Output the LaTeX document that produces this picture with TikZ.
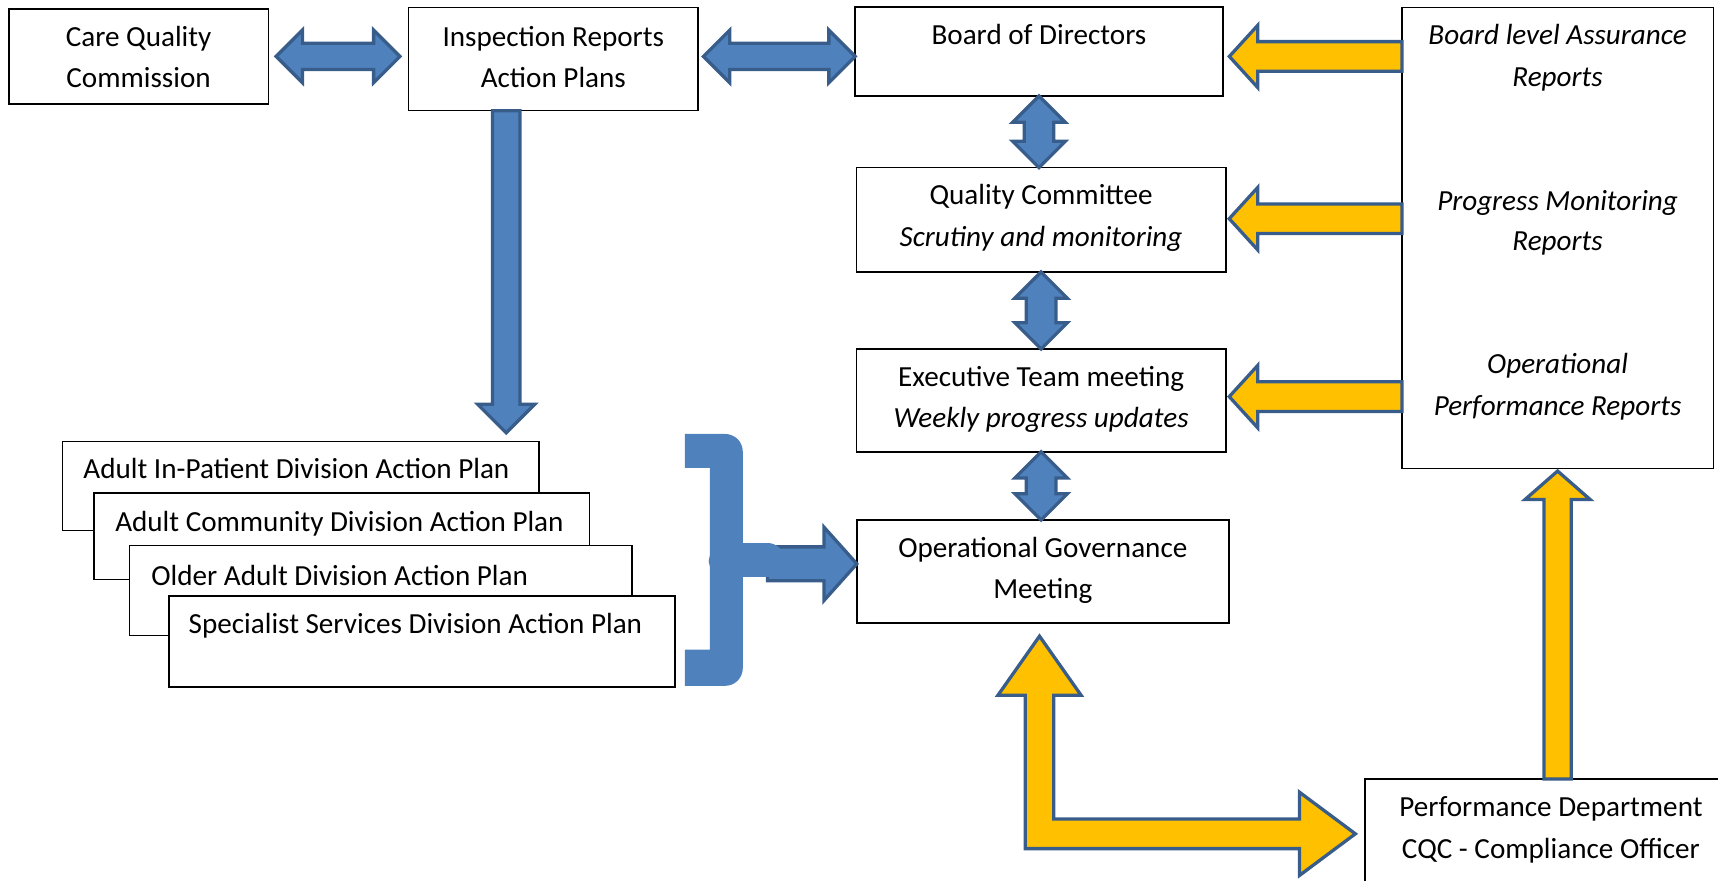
\documentclass[tikz,border=0pt]{standalone}
\usepackage{fontspec}
\setmainfont{Carlito}
\usetikzlibrary{calc}
\definecolor{bfill}{HTML}{4F81BD}
\definecolor{bline}{HTML}{385D8A}
\definecolor{yfill}{HTML}{FFC000}
\tikzset{
  box/.style={draw=black, line width=1.4pt, fill=white, inner sep=0pt, outer sep=0pt, anchor=north west},
  txt/.style={font=\fontsize{26.6}{37.5}\selectfont, inner sep=0pt, anchor=base},
  itxt/.style={font=\fontsize{26.6}{37.5}\selectfont\itshape, inner sep=0pt, anchor=base},
  ltxt/.style={font=\fontsize{26.6}{37.5}\selectfont, inner sep=0pt, anchor=base west},
  barrow/.style={fill=bfill, draw=bline, line width=3pt},
  yarrow/.style={fill=yfill, draw=bline, line width=3pt},
}
% single block arrow: style, tail, tip, shaft half width, head half width, head length
\newcommand{\blkarrow}[6]{%
  \coordinate (baA) at (#2);
  \coordinate (baB) at (#3);
  \coordinate (baH) at ($(baB)!#6!(baA)$);
  \draw[#1] ($(baA)!#4!90:(baB)$) -- ($(baH)!#4!90:(baB)$) -- ($(baH)!#5!90:(baB)$) -- (baB)
    -- ($(baH)!#5!-90:(baB)$) -- ($(baH)!#4!-90:(baB)$) -- ($(baA)!#4!-90:(baB)$) -- cycle;
}
% double block arrow
\newcommand{\dblarrow}[6]{%
  \coordinate (daA) at (#2);
  \coordinate (daB) at (#3);
  \coordinate (daHa) at ($(daA)!#6!(daB)$);
  \coordinate (daHb) at ($(daB)!#6!(daA)$);
  \draw[#1] (daA) -- ($(daHa)!#5!90:(daB)$) -- ($(daHa)!#4!90:(daB)$) -- ($(daHb)!#4!90:(daB)$)
    -- ($(daHb)!#5!90:(daB)$) -- (daB) -- ($(daHb)!#5!-90:(daB)$) -- ($(daHb)!#4!-90:(daB)$)
    -- ($(daHa)!#4!-90:(daB)$) -- ($(daHa)!#5!-90:(daB)$) -- cycle;
}
\begin{document}
\begin{tikzpicture}[x=1pt, y=-1pt]
\useasboundingbox (0,0) rectangle (1568,804);
\clip (0,0) rectangle (1568,804);

% boxes
\node[box, minimum width=237pt, minimum height=87pt] (cqc) at (8,8) {};
\node[box, minimum width=264pt, minimum height=94.3pt] (insp) at (373,6.7) {};
\node[box, minimum width=335.5pt, minimum height=81.1pt] (board) at (780.5,6.5) {};
\node[box, minimum width=284.2pt, minimum height=420.7pt] (rbox) at (1279.5,6.7) {};
\node[box, minimum width=337.4pt, minimum height=95.2pt] (qual) at (781.5,153) {};
\node[box, minimum width=337.4pt, minimum height=93.8pt] (exec) at (781.5,318.5) {};
\node[box, minimum width=339.5pt, minimum height=94pt] (opg) at (782,474.6) {};
\node[box, minimum width=339pt, minimum height=130pt] (perf) at (1246,711) {};
\node[box, minimum width=435pt, minimum height=81pt] (dip) at (57,403) {};
\node[box, minimum width=452pt, minimum height=79pt] (dco) at (86,450) {};
\node[box, minimum width=459pt, minimum height=82pt] (dol) at (118,498) {};
\node[box, minimum width=462pt, minimum height=83pt] (dsp) at (154,544) {};

% texts
\node[txt] (cqc1) at ($(cqc.north)+(0,34.6)$) {Care Quality};
\node[txt] (cqc2) at ($(cqc.north)+(0,72)$) {Commission};
\node[txt] (insp1) at ($(insp.north)+(0,35.9)$) {Inspection Reports};
\node[txt] (insp2) at ($(insp.north)+(0,73.3)$) {Action Plans};
\node[txt] (board1) at ($(board.north)+(0,34.5)$) {Board of Directors};
\node[itxt] (r1) at ($(rbox.north)+(0,34.3)$) {Board level Assurance};
\node[itxt] (r2) at ($(rbox.north)+(0,71.8)$) {Reports};
\node[itxt] (r3) at ($(rbox.north)+(0,185)$) {Progress Monitoring};
\node[itxt] (r4) at ($(rbox.north)+(0,221.5)$) {Reports};
\node[itxt] (r5) at ($(rbox.north)+(0,334)$) {Operational};
\node[itxt] (r6) at ($(rbox.north)+(0,372.1)$) {Performance Reports};
\node[txt] (qual1) at ($(qual.north)+(0,34)$) {Quality Committee};
\node[itxt] (qual2) at ($(qual.north)+(0,72)$) {Scrutiny and monitoring};
\node[txt] (exec1) at ($(exec.north)+(0,34.5)$) {Executive Team meeting};
\node[itxt] (exec2) at ($(exec.north)+(0,71.5)$) {Weekly progress updates};
\node[txt] (opg1) at ($(opg.north)+(0,34.4)$) {Operational Governance};
\node[txt] (opg2) at ($(opg.north)+(0,71.9)$) {Meeting};
\node[txt] (perf1) at ($(perf.north)+(0,34.3)$) {Performance Department};
\node[txt] (perf2) at ($(perf.north)+(0,72.4)$) {CQC - Compliance Officer};
\node[ltxt] (dipt) at ($(dip.north west)+(19,34)$) {Adult In-Patient Division Action Plan};
\node[ltxt] (dcot) at ($(dco.north west)+(19,35)$) {Adult Community Division Action Plan};
\node[ltxt] (dolt) at ($(dol.north west)+(20,36)$) {Older Adult Division Action Plan};
\node[ltxt] (dspt) at ($(dsp.north west)+(18,34)$) {Specialist Services Division Action Plan};

% blue arrows
\dblarrow{barrow}{$(cqc.east)+(7,0)$}{$(cqc.east -| insp.west)+(-8,0)$}{12pt}{24pt}{24pt}
\dblarrow{barrow}{$(insp.east |- cqc.east)+(5,0)$}{board.west |- cqc.east}{12pt}{24pt}{24pt}
\dblarrow{barrow}{board.south}{board.south |- qual.north}{13.5pt}{24pt}{24pt}
\dblarrow{barrow}{qual.south}{qual.south |- exec.north}{13.5pt}{24pt}{24pt}
\dblarrow{barrow}{exec.south}{exec.south |- opg.north}{13.5pt}{24pt}{24pt}
\blkarrow{barrow}{$(insp.south)+(-43,0)$}{$(insp.south |- dip.north)+(-43,-8)$}{12.5pt}{26pt}{26pt}

% yellow arrows
\blkarrow{yarrow}{rbox.west |- cqc.east}{$(board.east |- cqc.east)+(6,0)$}{13.5pt}{28.5pt}{26pt}
\blkarrow{yarrow}{$(rbox.west |- qual.east)+(0,-1)$}{$(qual.east)+(3,-1)$}{13.5pt}{28.5pt}{26pt}
\blkarrow{yarrow}{$(rbox.west |- exec.east)+(0,-3.4)$}{$(exec.east)+(3,-3.4)$}{13.5pt}{28.5pt}{26pt}
\blkarrow{yarrow}{rbox.south |- perf.north}{$(rbox.south)+(0,2.5)$}{12.5pt}{29.7pt}{26pt}

% L-shaped double arrow
\coordinate (Ltip) at ($(opg.south)+(-3,12)$);
\coordinate (Rtip) at ($(perf.north west)+(-9,50)$);
\draw[yarrow] (Ltip) -- ($(Ltip)+(38,54)$) -- ($(Ltip)+(13,54)$) -- ($(Ltip |- Rtip)+(13,-13.5)$)
  -- ($(Rtip)+(-51,-13.5)$) -- ($(Rtip)+(-51,-38)$) -- (Rtip) -- ($(Rtip)+(-51,38)$)
  -- ($(Rtip)+(-51,13.5)$) -- ($(Ltip |- Rtip)+(-13,13.5)$) -- ($(Ltip)+(-13,54)$)
  -- ($(Ltip)+(-38,54)$) -- cycle;

% bracket with arrow
\blkarrow{barrow}{$(opg.west)+(-81.5,-7)$}{$(opg.west)+(0,-7)$}{15.5pt}{33.5pt}{30pt}
\fill[bfill] (625,396) -- (661,396) .. controls (671,396) and (678,403) .. (678,413)
  -- (678,609) .. controls (678,619) and (671,626) .. (661,626) -- (625,626) -- (625,593)
  -- (648,593) -- (648,518) -- (646.8,512) -- (648,506) -- (648,427) -- (625,427) -- cycle;
\draw[bfill, line width=31pt, line cap=round] (680,511) -- (700.5,511);
\end{tikzpicture}
\end{document}
